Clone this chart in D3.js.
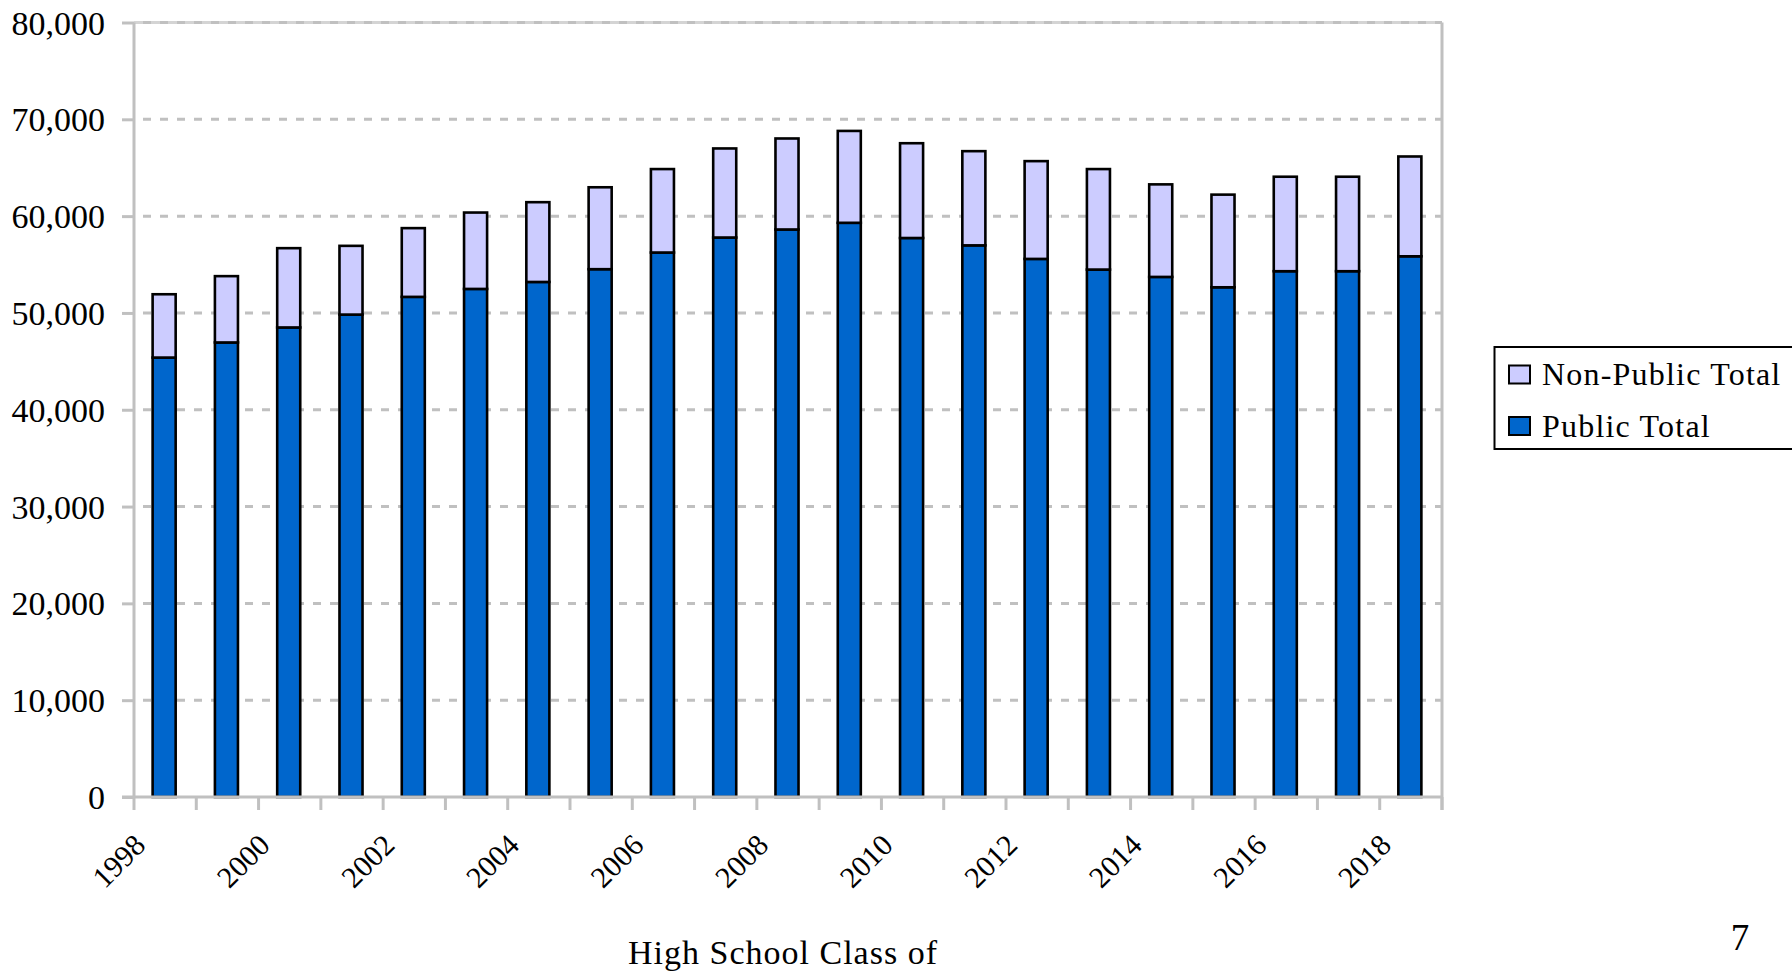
<!DOCTYPE html>
<html>
<head>
<meta charset="utf-8">
<script src="https://cdn.jsdelivr.net/npm/d3@7"></script>
<style>
  html, body { margin: 0; padding: 0; background: #fff; }
  svg { display: block; font-family: "Liberation Serif", "Times New Roman", serif; }
</style>
</head>
<body>
<svg id="chart" width="1792" height="975"></svg>
<script>
const years = ["1998","1999","2000","2001","2002","2003","2004","2005","2006","2007","2008",
               "2009","2010","2011","2012","2013","2014","2015","2016","2017","2018"];
const publicTotal = [45390, 46950, 48500, 49830, 51660, 52480, 53200, 54520, 56240, 57790, 58620,
                     59310, 57740, 56980, 55580, 54480, 53720, 52650, 54310, 54310, 55850];
const nonPublicTotal = [6540, 6850, 8190, 7100, 7100, 7890, 8240, 8460, 8620, 9200, 9400,
                        9490, 9790, 9730, 10100, 10380, 9560, 9570, 9760, 9760, 10310];
const yTicks = [0, 10000, 20000, 30000, 40000, 50000, 60000, 70000, 80000];
const xLabelYears = ["1998","2000","2002","2004","2006","2008","2010","2012","2014","2016","2018"];
const seriesNames = ["Non-Public Total", "Public Total"];
const seriesColors = { "Public Total": "#0066CC", "Non-Public Total": "#CCCCFF" };
const xTitle = "High School Class of";
const pageNumber = "7";

const svg = d3.select("#chart");
const pLeft = 134, pRight = 1442, pTop = 22.5, pBottom = 797;
const grid = "#c0c0c0";

const x = d3.scaleBand().domain(years).range([pLeft, pRight]).paddingInner(0.63).paddingOuter(0.315);
const y = d3.scaleLinear().domain([0, 80000]).range([pBottom, pTop]);

// plot border (top & right)
svg.append("line").attr("x1", pLeft).attr("x2", pRight).attr("y1", y(80000)).attr("y2", y(80000))
  .attr("stroke", "#d4d4d4").attr("stroke-width", 3);
svg.append("line").attr("x1", pRight).attr("x2", pRight).attr("y1", pTop).attr("y2", pBottom + 13)
  .attr("stroke", grid).attr("stroke-width", 3);

// gridlines
svg.append("g").selectAll("line").data(yTicks.filter(d => d > 0)).join("line")
  .attr("x1", pLeft + 5).attr("x2", pRight).attr("y1", d => y(d)).attr("y2", d => y(d))
  .attr("stroke", grid).attr("stroke-width", 3).attr("stroke-dasharray", "8,9")
  .attr("stroke-dashoffset", -4);

// stacked bars
const data = years.map((yr, i) => ({ year: yr, "Public Total": publicTotal[i], "Non-Public Total": nonPublicTotal[i] }));
const stack = d3.stack().keys(["Public Total", "Non-Public Total"]);
const stacked = stack(data);
svg.append("g").selectAll("g").data(stacked).join("g")
  .attr("fill", d => seriesColors[d.key])
  .selectAll("rect").data(d => d).join("rect")
  .attr("x", d => x(d.data.year) - 1)
  .attr("width", x.bandwidth())
  .attr("y", d => y(d[1]))
  .attr("height", d => y(d[0]) - y(d[1]))
  .attr("stroke", "#000").attr("stroke-width", 2.6);

// y axis
const yAxis = svg.append("g").attr("transform", `translate(${pLeft},0)`)
  .call(d3.axisLeft(y).tickValues(yTicks).tickSize(12).tickPadding(17).tickFormat(d3.format(",")));
yAxis.attr("font-family", null);
yAxis.select(".domain").attr("stroke", grid).attr("stroke-width", 3).attr("d", `M0,${pTop}V${pBottom}`);
yAxis.selectAll(".tick line").attr("stroke", grid).attr("stroke-width", 3);
yAxis.selectAll(".tick text").attr("fill", "#000").attr("font-size", 34).attr("dy", "0.34em");

// x axis line & ticks at category boundaries
const boundaries = d3.range(years.length + 1).map(i => pLeft + i * x.step());
svg.append("line").attr("x1", pLeft - 12).attr("x2", pRight).attr("y1", pBottom).attr("y2", pBottom)
  .attr("stroke", grid).attr("stroke-width", 3);
svg.append("g").selectAll("line").data(boundaries).join("line")
  .attr("x1", d => d).attr("x2", d => d).attr("y1", pBottom).attr("y2", pBottom + 13)
  .attr("stroke", grid).attr("stroke-width", 3);

// x labels (rotated)
svg.append("g").selectAll("text").data(xLabelYears).join("text")
  .attr("transform", d => `translate(${x(d) + x.bandwidth() / 2 - 18},${pBottom + 50}) rotate(-45)`)
  .attr("text-anchor", "end").attr("font-size", 30).attr("fill", "#000")
  .text(d => d);

// x title
svg.append("text").attr("x", 783).attr("y", 964).attr("text-anchor", "middle")
  .attr("font-size", 34).attr("letter-spacing", 1).attr("fill", "#000").text(xTitle);

// page number
svg.append("text").attr("x", 1740).attr("y", 950).attr("text-anchor", "middle")
  .attr("font-size", 37).attr("fill", "#000").text(pageNumber);

// legend
const lg = svg.append("g");
lg.append("rect").attr("x", 1494.5).attr("y", 347).attr("width", 320).attr("height", 102)
  .attr("fill", "#fff").attr("stroke", "#000").attr("stroke-width", 2);
const lrows = lg.selectAll("g.row").data(seriesNames).join("g").attr("class", "row")
  .attr("transform", (d, i) => `translate(0,${i * 51.5})`);
lrows.append("rect").attr("x", 1509).attr("y", 365.5).attr("width", 21).attr("height", 18)
  .attr("fill", d => seriesColors[d]).attr("stroke", "#000").attr("stroke-width", 2);
lrows.append("text").attr("x", 1542).attr("y", 385).attr("font-size", 32)
  .attr("letter-spacing", 1.2).attr("fill", "#000").text(d => d);
</script>
</body>
</html>
